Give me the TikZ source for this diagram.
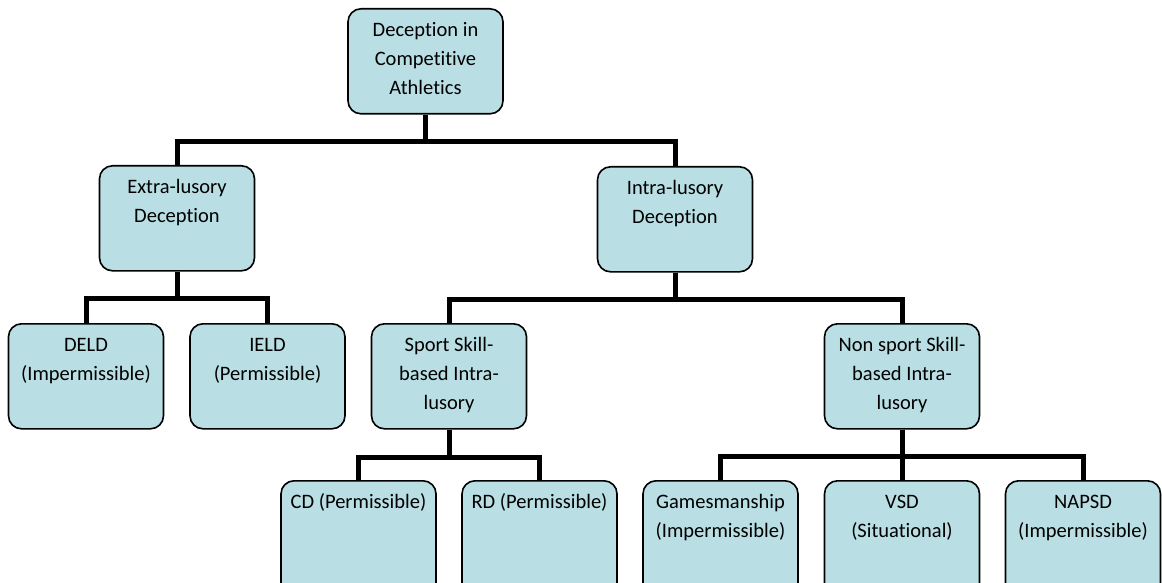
\documentclass[tikz,border=0pt]{standalone}
\usepackage{fontspec}
\setmainfont{Carlito}[Ligatures=NoCommon]
\definecolor{boxblue}{RGB}{185,223,228}
\tikzset{
  catbox/.style={draw=black, line width=1.6pt, fill=boxblue, rounded corners=13pt,
    anchor=north, inner sep=0pt, text width=155pt, align=flush center,
    font=\fontsize{20.5}{29}\selectfont, text height=28pt, text depth=77pt},
  leafbox/.style={catbox, text depth=100pt},
  link/.style={line width=5pt}
}
\begin{document}
\begin{tikzpicture}[x=1pt, y=-1pt]
  \useasboundingbox (0,0) rectangle (1162,583);
  % level 1
  \node[catbox] (root) at (425.5,8) {Deception in\\Competitive\\Athletics};
  % level 2
  \node[catbox] (extra) at (177,165) {Extra-lusory\\Deception};
  \node[catbox] (intra) at (675,166) {Intra-lusory\\Deception};
  % level 3
  \node[catbox] (deld) at (86,323) {DELD\\(Impermissible)};
  \node[catbox] (ield) at (267.5,323) {IELD\\(Permissible)};
  \node[catbox] (sport) at (449,323) {Sport Skill-\\based Intra-\\lusory};
  \node[catbox] (nonsport) at (902,323) {Non sport Skill-\\based Intra-\\lusory};
  % level 4
  \node[leafbox] (cd) at (358.5,480) {CD (Permissible)};
  \node[leafbox] (rd) at (539.5,480) {RD (Permissible)};
  \node[leafbox] (games) at (720.5,480) {Gamesmanship\\(Impermissible)};
  \node[leafbox] (vsd) at (902,480) {VSD\\(Situational)};
  \node[leafbox] (napsd) at (1083,480) {NAPSD\\(Impermissible)};
  % elbow connectors
  \coordinate (bar1) at (425.5,142);
  \coordinate (bar2) at (177,298);
  \coordinate (bar3) at (675,299);
  \coordinate (bar4) at (449,457);
  \coordinate (bar5) at (902,456);
  \draw[link] (root.south) -- (bar1) -| (extra.north);
  \draw[link] (root.south) -- (bar1) -| (intra.north);
  \draw[link] (extra.south) -- (bar2) -| (deld.north);
  \draw[link] (extra.south) -- (bar2) -| (ield.north);
  \draw[link] (intra.south) -- (bar3) -| (sport.north);
  \draw[link] (intra.south) -- (bar3) -| (nonsport.north);
  \draw[link] (sport.south) -- (bar4) -| (cd.north);
  \draw[link] (sport.south) -- (bar4) -| (rd.north);
  \draw[link] (nonsport.south) -- (bar5) -| (games.north);
  \draw[link] (nonsport.south) -- (bar5) -| (vsd.north);
  \draw[link] (nonsport.south) -- (bar5) -| (napsd.north);
\end{tikzpicture}
\end{document}
